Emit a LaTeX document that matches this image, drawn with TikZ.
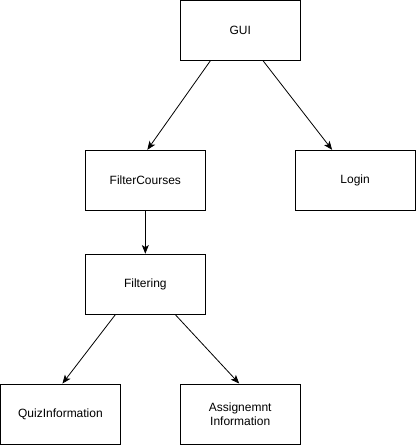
\documentclass[tikz,border=0pt]{standalone}
\usepackage{fontspec}
\setmainfont{Liberation Sans}
\usetikzlibrary{positioning,arrows.meta}
\newcommand\boxw{90pt}
\newcommand\boxh{45pt}
\newcommand\rowa{112.5pt}
\newcommand\rowb{78pt}
\newcommand\rowc{97.5pt}
\newcommand\offl{71.25pt}
\newcommand\offr{86.25pt}
\newcommand\offq{63.75pt}
\newcommand\tip{22.5pt}

\tikzset{
  block/.style={draw, line width=0.75pt, minimum width=\boxw, minimum height=\boxh,
    inner sep=2pt, align=center, font=\fontsize{9pt}{10.5pt}\selectfont},
  link/.style={draw, line width=0.6pt, -{Stealth[length=6.5pt,width=5.2pt,inset=1.6pt]}},
}

\begin{document}
\begin{tikzpicture}[on grid]
  \node[block] (gui) {GUI};
  % second row
  \node[block, below left=\rowa and \offl of gui] (filtercourses) {FilterCourses};
  \node[block, below right=\rowa and \offr of gui] (login) {Login};
  \node[block, below=\rowb of filtercourses] (filtering) {Filtering};
  % bottom row
  \node[block, below left=\rowc and \offq of filtering] (quizinfo) {QuizInformation};
  \node[block, below right=\rowc and \offl of filtering] (assigninfo) {Assignemnt\\Information};

  \useasboundingbox ([xshift=-180pt,yshift=22.5pt]gui.center)
    rectangle ([xshift=132pt,yshift=-311.25pt]gui.center);

  \draw[link] ([xshift=-\tip]gui.south) -- ([xshift=1.5pt]filtercourses.north);
  \draw[link] ([xshift=17.25pt]gui.south) -- ([xshift=-17.25pt]login.north);
  \draw[link] (filtercourses.south) -- (filtering.north);
  \draw[link] ([xshift=-\tip]filtering.south) -- ([xshift=1.5pt]quizinfo.north);
  \draw[link] ([xshift=\tip]filtering.south) -- ([xshift=-0.75pt]assigninfo.north);
\end{tikzpicture}
\end{document}
